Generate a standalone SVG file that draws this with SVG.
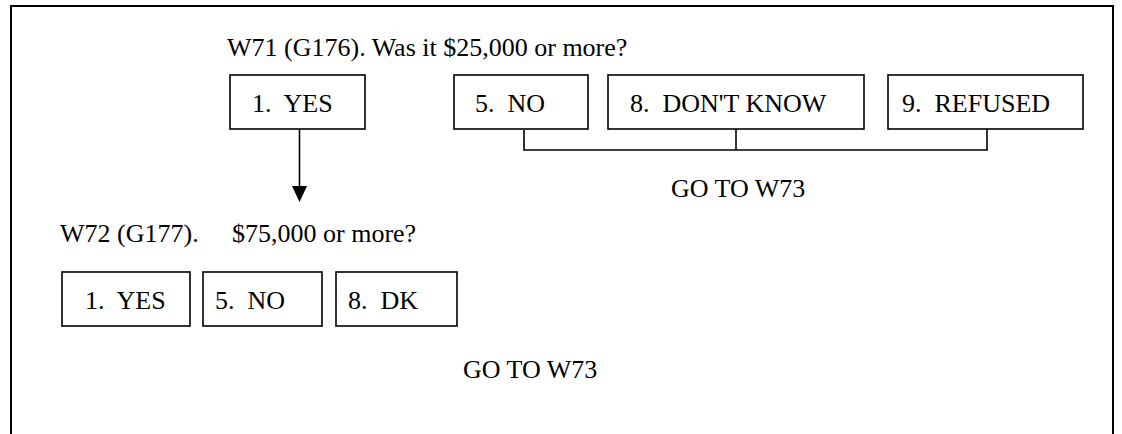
<svg xmlns="http://www.w3.org/2000/svg" width="1122" height="434" viewBox="0 0 1122 434">
<style>
text{font-family:"Liberation Serif","Times New Roman",serif;font-size:26px;fill:#000}
.box{fill:#fff;stroke:#000;stroke-width:1.6}
.ln{fill:none;stroke:#000;stroke-width:1.6}
</style>
<rect width="1122" height="434" fill="#fff"/>
<path d="M11,434 V6 H1113 V434" fill="none" stroke="#000" stroke-width="2"/>
<g id="q71"><text x="227" y="56">W71 (G176). Was it $25,000 or more?</text></g>
<g id="a71-yes"><rect class="box" x="230" y="75" width="135" height="54"/><text x="252" y="112" xml:space="preserve">1.  YES</text></g>
<g id="a71-no"><rect class="box" x="454" y="75" width="134" height="54"/><text x="475" y="112" xml:space="preserve">5.  NO</text></g>
<g id="a71-dk"><rect class="box" x="608" y="75" width="256" height="54"/><text x="630" y="112" xml:space="preserve">8.  DON'T KNOW</text></g>
<g id="a71-ref"><rect class="box" x="888" y="75" width="195" height="54"/><text x="902" y="112" xml:space="preserve">9.  REFUSED</text></g>
<g id="goto1"><text x="671" y="197">GO TO W73</text></g>
<g id="q72"><text x="60" y="242">W72 (G177).</text><text x="232" y="242">$75,000 or more?</text></g>
<g id="a72-yes"><rect class="box" x="62" y="272" width="128" height="54"/><text x="85" y="309" xml:space="preserve">1.  YES</text></g>
<g id="a72-no"><rect class="box" x="203" y="272" width="119" height="54"/><text x="215" y="309" xml:space="preserve">5.  NO</text></g>
<g id="a72-dk"><rect class="box" x="336" y="272" width="121" height="54"/><text x="348" y="309" xml:space="preserve">8.  DK</text></g>
<g id="goto2"><text x="463" y="378">GO TO W73</text></g>
<g id="connectors">
<path class="ln" d="M299.5,129 V188"/>
<polygon points="292,186 307,186 299.5,202" fill="#000"/>
<path class="ln" d="M524,130 V150 H987 V129"/>
<path class="ln" d="M736,129 V150"/>
</g>
</svg>
